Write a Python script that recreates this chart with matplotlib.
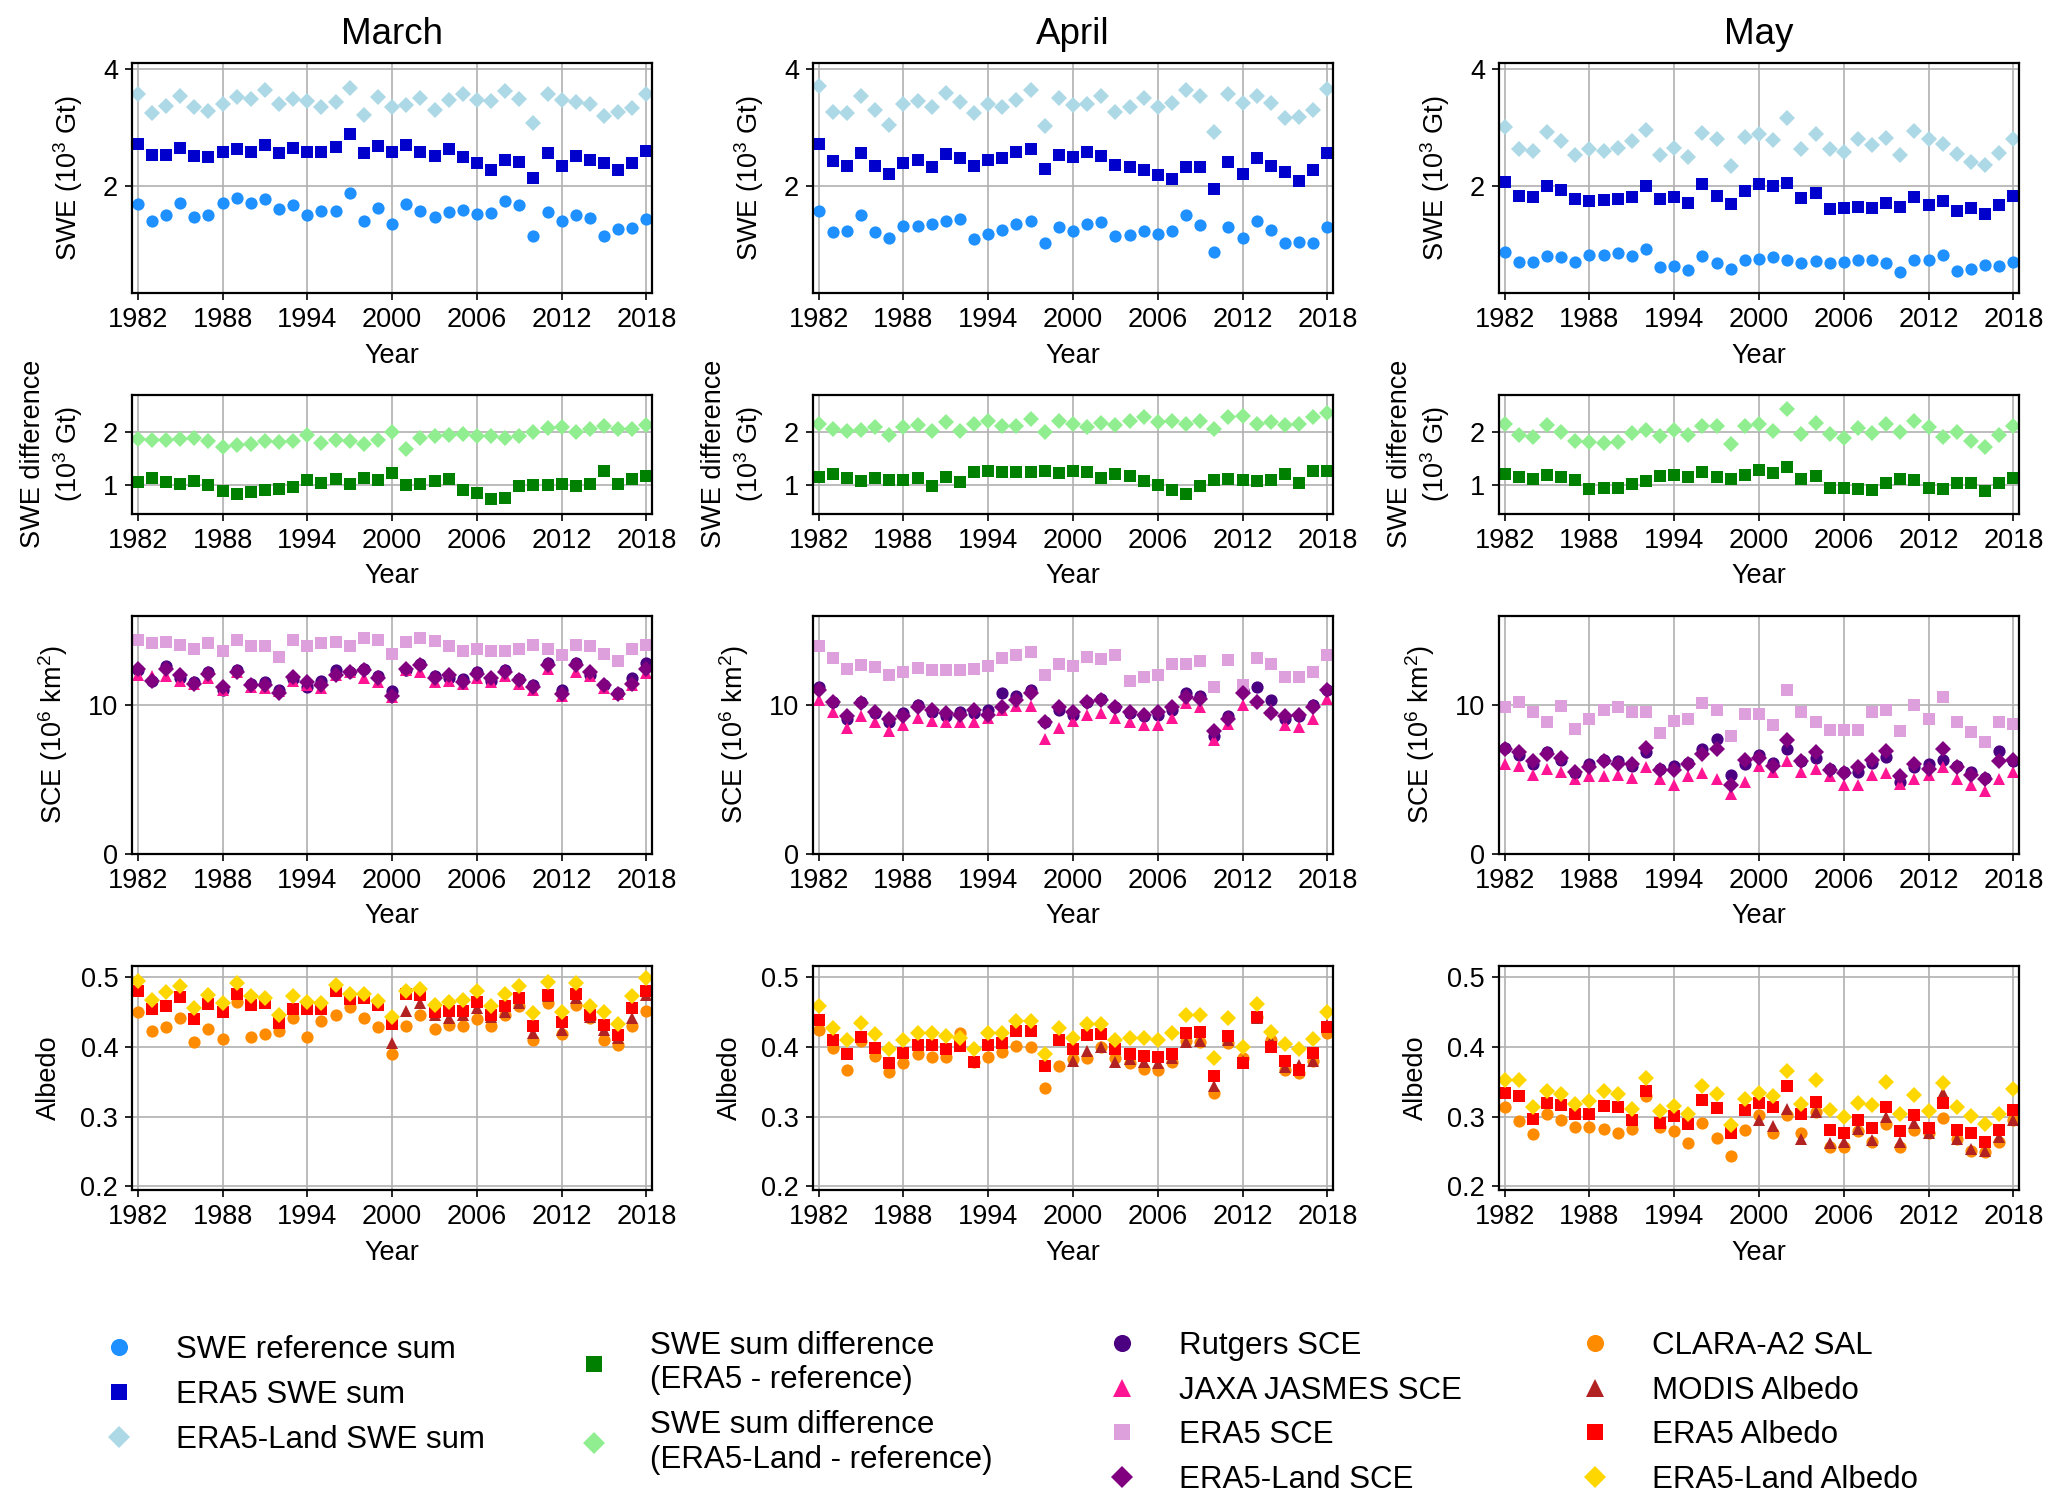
import numpy as np
import matplotlib.pyplot as plt
from matplotlib.lines import Line2D

plt.rcParams['font.family'] = ['Liberation Sans', 'DejaVu Sans']
plt.rcParams['mathtext.fontset'] = 'custom'
plt.rcParams['mathtext.rm'] = 'Liberation Sans'
plt.rcParams['mathtext.it'] = 'Liberation Sans:italic'

years = np.arange(1982, 2019)
modis_years = np.arange(2000, 2019)
months = ['March', 'April', 'May']
year_ticks = [1982, 1988, 1994, 2000, 2006, 2012, 2018]

# SWE sums (10^3 Gt)
mar_swe_ref = [1.69, 1.41, 1.51, 1.71, 1.47, 1.51, 1.71, 1.79, 1.71, 1.78, 1.61, 1.68, 1.50, 1.58, 1.58, 1.89, 1.41, 1.63, 1.36,
               1.70, 1.58, 1.47, 1.55, 1.60, 1.53, 1.54, 1.74, 1.67, 1.15, 1.55, 1.40, 1.50, 1.46, 1.15, 1.26, 1.29, 1.44]
mar_swe_era5 = [2.73, 2.54, 2.54, 2.66, 2.52, 2.50, 2.59, 2.63, 2.59, 2.70, 2.56, 2.66, 2.59, 2.59, 2.67, 2.89, 2.56, 2.69, 2.59,
                2.70, 2.58, 2.51, 2.64, 2.50, 2.39, 2.28, 2.44, 2.41, 2.14, 2.56, 2.35, 2.51, 2.45, 2.40, 2.27, 2.40, 2.61]
mar_swe_land = [3.58, 3.25, 3.37, 3.55, 3.36, 3.29, 3.40, 3.53, 3.49, 3.64, 3.41, 3.50, 3.46, 3.35, 3.44, 3.68, 3.22, 3.53, 3.36,
                3.39, 3.51, 3.31, 3.47, 3.57, 3.48, 3.46, 3.63, 3.50, 3.08, 3.58, 3.47, 3.44, 3.40, 3.20, 3.27, 3.34, 3.58]
apr_swe_ref = [1.57, 1.21, 1.23, 1.50, 1.22, 1.12, 1.32, 1.32, 1.35, 1.41, 1.44, 1.10, 1.19, 1.25, 1.36, 1.40, 1.03, 1.31, 1.24,
               1.35, 1.39, 1.14, 1.16, 1.23, 1.18, 1.23, 1.50, 1.34, 0.87, 1.30, 1.12, 1.41, 1.25, 1.03, 1.05, 1.03, 1.31]
apr_swe_era5 = [2.72, 2.43, 2.35, 2.56, 2.35, 2.20, 2.39, 2.45, 2.32, 2.55, 2.49, 2.35, 2.45, 2.48, 2.59, 2.64, 2.30, 2.53, 2.50,
                2.58, 2.51, 2.36, 2.33, 2.28, 2.19, 2.13, 2.33, 2.32, 1.96, 2.41, 2.21, 2.48, 2.34, 2.25, 2.09, 2.28, 2.57]
apr_swe_land = [3.72, 3.27, 3.25, 3.54, 3.30, 3.05, 3.40, 3.45, 3.36, 3.59, 3.44, 3.25, 3.40, 3.35, 3.47, 3.64, 3.03, 3.51, 3.39,
                3.41, 3.55, 3.27, 3.36, 3.51, 3.36, 3.43, 3.64, 3.55, 2.93, 3.57, 3.42, 3.55, 3.43, 3.16, 3.19, 3.31, 3.66]
may_swe_ref = [0.88, 0.70, 0.70, 0.81, 0.79, 0.70, 0.83, 0.83, 0.85, 0.80, 0.93, 0.62, 0.63, 0.56, 0.80, 0.69, 0.59, 0.73, 0.75,
               0.78, 0.73, 0.68, 0.72, 0.68, 0.70, 0.73, 0.74, 0.68, 0.53, 0.73, 0.73, 0.83, 0.55, 0.59, 0.65, 0.64, 0.71]
may_swe_era5 = [2.08, 1.84, 1.81, 2.00, 1.93, 1.78, 1.75, 1.76, 1.78, 1.82, 2.00, 1.78, 1.81, 1.71, 2.03, 1.84, 1.69, 1.91, 2.03,
                2.00, 2.06, 1.79, 1.89, 1.61, 1.63, 1.65, 1.63, 1.71, 1.64, 1.82, 1.67, 1.74, 1.58, 1.63, 1.53, 1.67, 1.84]
may_swe_land = [3.02, 2.63, 2.60, 2.93, 2.78, 2.53, 2.64, 2.61, 2.66, 2.78, 2.96, 2.54, 2.66, 2.50, 2.91, 2.80, 2.35, 2.84, 2.90,
                2.79, 3.16, 2.63, 2.89, 2.63, 2.59, 2.80, 2.71, 2.82, 2.53, 2.94, 2.81, 2.73, 2.55, 2.42, 2.36, 2.57, 2.81]

# SWE sum differences (10^3 Gt)
mar_diff_era5 = [1.05, 1.13, 1.05, 1.02, 1.07, 1.00, 0.88, 0.83, 0.86, 0.89, 0.92, 0.96, 1.08, 1.03, 1.10, 1.02, 1.13, 1.08, 1.22,
                 0.99, 1.01, 1.07, 1.10, 0.90, 0.84, 0.72, 0.75, 0.97, 0.99, 0.99, 1.01, 0.97, 1.01, 1.26, 1.01, 1.10, 1.16]
mar_diff_land = [1.86, 1.85, 1.85, 1.86, 1.88, 1.82, 1.71, 1.75, 1.77, 1.82, 1.80, 1.82, 1.94, 1.78, 1.85, 1.82, 1.77, 1.85, 1.99,
                 1.67, 1.88, 1.92, 1.94, 1.96, 1.92, 1.91, 1.88, 1.91, 1.99, 2.07, 2.09, 1.99, 2.05, 2.11, 2.05, 2.05, 2.13]
apr_diff_era5 = [1.15, 1.20, 1.12, 1.06, 1.12, 1.08, 1.08, 1.12, 0.98, 1.14, 1.05, 1.24, 1.25, 1.23, 1.23, 1.24, 1.26, 1.22, 1.25,
                 1.23, 1.13, 1.21, 1.17, 1.06, 1.00, 0.90, 0.83, 0.98, 1.09, 1.10, 1.09, 1.07, 1.09, 1.21, 1.04, 1.25, 1.26]
apr_diff_land = [2.15, 2.06, 2.02, 2.04, 2.08, 1.93, 2.08, 2.13, 2.01, 2.18, 2.02, 2.15, 2.21, 2.10, 2.11, 2.24, 2.00, 2.20, 2.15,
                 2.08, 2.16, 2.13, 2.20, 2.28, 2.18, 2.20, 2.14, 2.21, 2.06, 2.27, 2.30, 2.14, 2.18, 2.13, 2.14, 2.28, 2.35]
may_diff_era5 = [1.20, 1.14, 1.11, 1.19, 1.14, 1.08, 0.92, 0.93, 0.93, 1.02, 1.07, 1.16, 1.18, 1.15, 1.23, 1.15, 1.10, 1.18, 1.28,
                 1.22, 1.33, 1.11, 1.17, 0.93, 0.93, 0.92, 0.89, 1.03, 1.11, 1.09, 0.94, 0.91, 1.03, 1.04, 0.88, 1.03, 1.13]
may_diff_land = [2.14, 1.93, 1.90, 2.12, 1.99, 1.83, 1.81, 1.78, 1.81, 1.98, 2.03, 1.92, 2.03, 1.94, 2.11, 2.11, 1.76, 2.11, 2.15,
                 2.01, 2.43, 1.95, 2.17, 1.95, 1.89, 2.07, 1.97, 2.14, 2.00, 2.21, 2.08, 1.90, 2.00, 1.83, 1.71, 1.93, 2.10]

# Snow cover extent (10^6 km2)
mar_sce_rutgers = [12.3, 11.6, 12.6, 11.8, 11.5, 12.2, 11.0, 12.3, 11.4, 11.5, 11.0, 11.7, 11.2, 11.6, 12.3, 12.2, 12.4, 11.9, 10.9,
                   12.3, 12.7, 11.9, 11.8, 11.7, 12.2, 11.6, 12.3, 11.7, 11.3, 12.8, 11.0, 12.8, 12.0, 11.3, 10.8, 11.8, 12.8]
mar_sce_jaxa = [12.0, 11.9, 11.9, 11.6, 11.4, 11.8, 11.0, 12.2, 11.2, 11.1, 10.9, 11.6, 11.3, 11.1, 12.0, 12.2, 11.8, 11.5, 10.5,
                12.3, 12.2, 11.5, 11.6, 11.4, 11.8, 11.5, 11.9, 11.4, 11.0, 12.4, 10.6, 12.2, 11.9, 11.1, 10.7, 11.3, 12.1]
mar_sce_era5 = [14.3, 14.1, 14.2, 14.0, 13.75, 14.1, 13.6, 14.3, 13.95, 13.9, 13.2, 14.3, 13.95, 14.1, 14.2, 13.95, 14.45, 14.3, 13.4,
                14.2, 14.45, 14.25, 13.9, 13.6, 13.75, 13.6, 13.6, 13.75, 14.0, 13.7, 13.3, 14.0, 13.9, 13.4, 12.9, 13.75, 14.0]
mar_sce_land = [12.4, 11.55, 12.4, 11.95, 11.4, 12.05, 11.2, 12.2, 11.3, 11.3, 10.8, 11.85, 11.5, 11.3, 11.95, 12.15, 12.3, 11.75, 10.6,
                12.4, 12.65, 11.75, 11.95, 11.5, 12.05, 11.75, 12.15, 11.65, 11.2, 12.65, 10.7, 12.65, 12.15, 11.3, 10.7, 11.4, 12.4]
apr_sce_rutgers = [11.2, 10.2, 9.0, 10.2, 9.4, 8.8, 9.4, 10.0, 9.5, 9.2, 9.5, 9.4, 9.6, 10.8, 10.6, 11.0, 8.8, 9.6, 9.3,
                   10.2, 10.4, 9.8, 9.4, 9.2, 9.3, 9.6, 10.8, 10.6, 7.9, 9.2, 11.0, 11.2, 10.3, 9.0, 9.2, 10.0, 11.0]
apr_sce_jaxa = [10.3, 9.5, 8.4, 9.2, 8.8, 8.2, 8.6, 9.1, 8.9, 8.8, 8.8, 8.8, 9.1, 9.6, 9.9, 9.9, 7.7, 8.4, 8.9,
                9.3, 9.4, 9.1, 8.8, 8.6, 8.6, 9.1, 10.1, 9.8, 7.6, 8.7, 10.0, 10.3, 9.6, 8.6, 8.5, 9.0, 10.4]
apr_sce_era5 = [13.9, 13.15, 12.4, 12.65, 12.5, 11.95, 12.15, 12.45, 12.3, 12.3, 12.3, 12.4, 12.55, 13.1, 13.3, 13.55, 11.95, 12.7, 12.55,
                13.2, 13.05, 13.3, 11.6, 11.85, 11.95, 12.7, 12.7, 12.9, 11.2, 13.0, 11.3, 13.1, 12.7, 11.85, 11.85, 12.2, 13.3]
apr_sce_land = [11.0, 10.2, 9.2, 10.1, 9.5, 9.0, 9.2, 9.8, 9.6, 9.4, 9.3, 9.6, 9.3, 9.8, 10.3, 10.8, 8.8, 9.8, 9.5,
                10.2, 10.3, 9.8, 9.5, 9.3, 9.5, 9.8, 10.5, 10.4, 8.2, 9.0, 10.8, 10.2, 9.4, 9.2, 9.3, 9.8, 11.0]
may_sce_rutgers = [7.1, 6.6, 6.0, 6.8, 6.3, 5.4, 6.0, 6.3, 6.2, 5.9, 6.8, 5.7, 5.9, 6.1, 7.0, 7.7, 5.3, 6.0, 6.6,
                   6.1, 7.0, 6.2, 6.4, 5.7, 5.5, 5.5, 6.1, 6.5, 4.8, 5.8, 6.0, 6.3, 5.9, 5.5, 5.1, 6.9, 6.2]
may_sce_jaxa = [6.0, 5.9, 5.3, 5.7, 5.5, 5.0, 5.2, 5.2, 5.3, 5.1, 5.8, 5.0, 4.6, 5.2, 5.4, 5.0, 4.0, 4.8, 5.9,
                5.5, 6.2, 5.5, 5.7, 5.2, 4.6, 4.6, 5.3, 5.4, 4.7, 5.0, 5.3, 5.8, 5.0, 4.6, 4.2, 5.0, 5.5]
may_sce_era5 = [9.8, 10.2, 9.5, 8.85, 9.9, 8.35, 9.0, 9.65, 9.8, 9.5, 9.5, 8.1, 8.9, 9.0, 10.1, 9.65, 7.9, 9.35, 9.35,
                8.65, 10.95, 9.5, 8.85, 8.3, 8.3, 8.3, 9.5, 9.65, 8.2, 9.95, 9.0, 10.5, 8.85, 8.15, 7.5, 8.8, 8.7]
may_sce_land = [7.0, 6.8, 6.2, 6.7, 6.4, 5.5, 5.8, 6.2, 6.0, 6.0, 7.1, 5.6, 5.6, 6.0, 6.7, 7.0, 4.6, 6.3, 6.4,
                5.9, 7.6, 6.2, 6.8, 5.6, 5.4, 5.8, 6.3, 6.9, 5.2, 6.0, 5.7, 7.0, 5.8, 5.3, 5.0, 6.2, 6.3]

# Albedo
mar_alb_clara = [0.450, 0.423, 0.428, 0.441, 0.406, 0.425, 0.411, 0.464, 0.414, 0.418, 0.422, 0.441, 0.414, 0.436, 0.445, 0.457,
                 0.441, 0.428, 0.390, 0.430, 0.445, 0.425, 0.431, 0.430, 0.440, 0.430, 0.445, 0.458, 0.409, 0.462, 0.418, 0.459,
                 0.441, 0.409, 0.403, 0.429, 0.451]
mar_alb_modis = [0.405, 0.451, 0.462, 0.446, 0.441, 0.445, 0.455, 0.443, 0.450, 0.462, 0.420, 0.472, 0.424, 0.469, 0.443, 0.424,
                 0.412, 0.441, 0.474]
mar_alb_era5 = [0.480, 0.454, 0.458, 0.471, 0.440, 0.461, 0.449, 0.475, 0.459, 0.462, 0.434, 0.454, 0.454, 0.454, 0.480, 0.468,
                0.470, 0.459, 0.432, 0.475, 0.474, 0.449, 0.451, 0.451, 0.464, 0.445, 0.458, 0.470, 0.429, 0.474, 0.435, 0.475,
                0.445, 0.431, 0.416, 0.455, 0.480]
mar_alb_land = [0.494, 0.467, 0.478, 0.487, 0.455, 0.474, 0.462, 0.491, 0.472, 0.470, 0.445, 0.473, 0.464, 0.462, 0.488, 0.476,
                0.476, 0.466, 0.442, 0.480, 0.482, 0.459, 0.464, 0.467, 0.480, 0.458, 0.475, 0.487, 0.448, 0.493, 0.450, 0.491,
                0.458, 0.450, 0.432, 0.472, 0.498]
apr_alb_clara = [0.424, 0.398, 0.366, 0.408, 0.387, 0.364, 0.377, 0.390, 0.385, 0.385, 0.420, 0.378, 0.385, 0.393, 0.401, 0.400,
                 0.341, 0.373, 0.382, 0.384, 0.399, 0.384, 0.377, 0.368, 0.366, 0.378, 0.408, 0.406, 0.334, 0.405, 0.384, 0.443,
                 0.409, 0.367, 0.363, 0.379, 0.419]
apr_alb_modis = [0.380, 0.394, 0.400, 0.378, 0.382, 0.378, 0.377, 0.384, 0.406, 0.408, 0.344, 0.409, 0.379, 0.441, 0.408, 0.371,
                 0.374, 0.380, 0.431]
apr_alb_era5 = [0.438, 0.409, 0.389, 0.414, 0.398, 0.376, 0.391, 0.402, 0.402, 0.397, 0.401, 0.378, 0.402, 0.405, 0.422, 0.423,
                0.373, 0.409, 0.397, 0.416, 0.418, 0.396, 0.390, 0.387, 0.385, 0.390, 0.419, 0.421, 0.358, 0.415, 0.376, 0.442,
                0.400, 0.379, 0.366, 0.391, 0.428]
apr_alb_land = [0.458, 0.427, 0.409, 0.434, 0.418, 0.397, 0.410, 0.419, 0.420, 0.415, 0.413, 0.396, 0.420, 0.420, 0.436, 0.437,
                0.390, 0.427, 0.413, 0.433, 0.433, 0.409, 0.413, 0.413, 0.409, 0.419, 0.445, 0.445, 0.384, 0.441, 0.400, 0.461,
                0.421, 0.404, 0.397, 0.411, 0.450]
may_alb_clara = [0.313, 0.294, 0.275, 0.303, 0.295, 0.285, 0.285, 0.282, 0.277, 0.282, 0.330, 0.285, 0.279, 0.262, 0.291, 0.269,
                 0.243, 0.281, 0.302, 0.277, 0.302, 0.276, 0.307, 0.257, 0.257, 0.280, 0.263, 0.289, 0.257, 0.281, 0.277, 0.298,
                 0.268, 0.250, 0.249, 0.263, 0.295]
may_alb_modis = [0.295, 0.286, 0.311, 0.268, 0.307, 0.262, 0.263, 0.282, 0.266, 0.299, 0.263, 0.291, 0.277, 0.334, 0.268, 0.254,
                 0.251, 0.270, 0.295]
may_alb_era5 = [0.334, 0.329, 0.297, 0.320, 0.316, 0.304, 0.304, 0.315, 0.313, 0.295, 0.337, 0.291, 0.301, 0.289, 0.323, 0.312,
                0.277, 0.309, 0.320, 0.314, 0.344, 0.304, 0.321, 0.281, 0.276, 0.295, 0.283, 0.313, 0.280, 0.302, 0.284, 0.319,
                0.281, 0.276, 0.263, 0.281, 0.309]
may_alb_land = [0.352, 0.352, 0.313, 0.336, 0.332, 0.318, 0.322, 0.337, 0.332, 0.311, 0.355, 0.308, 0.315, 0.303, 0.343, 0.332,
                0.288, 0.325, 0.334, 0.329, 0.365, 0.318, 0.352, 0.310, 0.299, 0.319, 0.316, 0.350, 0.304, 0.331, 0.308, 0.348,
                0.314, 0.301, 0.289, 0.303, 0.339]

swe_ref = [mar_swe_ref, apr_swe_ref, may_swe_ref]
swe_era5 = [mar_swe_era5, apr_swe_era5, may_swe_era5]
swe_land = [mar_swe_land, apr_swe_land, may_swe_land]
diff_era5 = [mar_diff_era5, apr_diff_era5, may_diff_era5]
diff_land = [mar_diff_land, apr_diff_land, may_diff_land]
sce_rutgers = [mar_sce_rutgers, apr_sce_rutgers, may_sce_rutgers]
sce_jaxa = [mar_sce_jaxa, apr_sce_jaxa, may_sce_jaxa]
sce_era5 = [mar_sce_era5, apr_sce_era5, may_sce_era5]
sce_land = [mar_sce_land, apr_sce_land, may_sce_land]
alb_clara = [mar_alb_clara, apr_alb_clara, may_alb_clara]
alb_modis = [mar_alb_modis, apr_alb_modis, may_alb_modis]
alb_era5 = [mar_alb_era5, apr_alb_era5, may_alb_era5]
alb_land = [mar_alb_land, apr_alb_land, may_alb_land]

# marker styles
st_swe_ref = dict(marker='o', color='dodgerblue', markersize=8.8)
st_swe_era5 = dict(marker='s', color='mediumblue', markersize=8)
st_swe_land = dict(marker='D', color='lightblue', markersize=8.2)
st_diff_era5 = dict(marker='s', color='green', markersize=8)
st_diff_land = dict(marker='D', color='lightgreen', markersize=8.2)
st_rutgers = dict(marker='o', color='indigo', markersize=8.8)
st_jaxa = dict(marker='^', color='deeppink', markersize=9)
st_sce_era5 = dict(marker='s', color='plum', markersize=8)
st_sce_land = dict(marker='D', color='purple', markersize=8.2)
st_clara = dict(marker='o', color='darkorange', markersize=8.8)
st_modis = dict(marker='^', color='firebrick', markersize=9)
st_alb_era5 = dict(marker='s', color='red', markersize=8)
st_alb_land = dict(marker='D', color='gold', markersize=8.2)

FS = 19.5
col_left = [0.0639, 0.3933, 0.7252]
col_w = 0.2516
rows = [(0.806, 0.152), (0.660, 0.0788), (0.435, 0.157), (0.2125, 0.148)]


def style_axes(ax, ylabel, ylim, yticks):
    ax.set_xlim(1981.6, 2018.4)
    ax.set_xticks(year_ticks)
    ax.set_ylim(ylim)
    ax.set_yticks(yticks)
    ax.grid(True, color='#b0b0b0', linewidth=1.2)
    ax.set_axisbelow(True)
    ax.set_xlabel('Year', fontsize=FS, labelpad=7)
    ax.set_ylabel(ylabel, fontsize=FS, labelpad=13)
    ax.tick_params(labelsize=FS, length=5, width=1.2, pad=5)
    for sp in ax.spines.values():
        sp.set_linewidth(1.6)


def dots(ax, x, y, st):
    ax.plot(x, y, linestyle='none', markeredgewidth=0, **st)


fig = plt.figure(figsize=(20.67, 15.11), dpi=100)

for c, month in enumerate(months):
    # SWE sums
    ax = fig.add_axes([col_left[c], rows[0][0], col_w, rows[0][1]])
    dots(ax, years, swe_ref[c], st_swe_ref)
    dots(ax, years, swe_era5[c], st_swe_era5)
    dots(ax, years, swe_land[c], st_swe_land)
    style_axes(ax, 'SWE (10$^3$ Gt)', (0.17, 4.1), [2, 4])
    ax.set_title(month, fontsize=26.5, pad=14)

    # SWE differences
    ax = fig.add_axes([col_left[c], rows[1][0], col_w, rows[1][1]])
    dots(ax, years, diff_era5[c], st_diff_era5)
    dots(ax, years, diff_land[c], st_diff_land)
    style_axes(ax, 'SWE difference\n(10$^3$ Gt)', (0.45, 2.7), [1, 2])

    # SCE
    ax = fig.add_axes([col_left[c], rows[2][0], col_w, rows[2][1]])
    dots(ax, years, sce_rutgers[c], st_rutgers)
    dots(ax, years, sce_jaxa[c], st_jaxa)
    dots(ax, years, sce_era5[c], st_sce_era5)
    dots(ax, years, sce_land[c], st_sce_land)
    style_axes(ax, 'SCE (10$^6$ km$^2$)', (0, 15.9), [0, 10])

    # Albedo
    ax = fig.add_axes([col_left[c], rows[3][0], col_w, rows[3][1]])
    dots(ax, years, alb_clara[c], st_clara)
    dots(ax, modis_years, alb_modis[c], st_modis)
    dots(ax, years, alb_era5[c], st_alb_era5)
    dots(ax, years, alb_land[c], st_alb_land)
    style_axes(ax, 'Albedo', (0.195, 0.515), [0.2, 0.3, 0.4, 0.5])


def handle(st):
    return Line2D([], [], linestyle='none', markeredgewidth=0, **st)


leg_kw = dict(loc='upper left', frameon=False, fontsize=22.5, handletextpad=0.8,
              borderaxespad=0, labelspacing=0.47, markerscale=1.4)

fig.legend([handle(st_swe_ref), handle(st_swe_era5), handle(st_swe_land)],
           ['SWE reference sum', 'ERA5 SWE sum', 'ERA5-Land SWE sum'],
           bbox_to_anchor=(0.0366, 0.1245), **leg_kw)
fig.legend([handle(st_diff_era5), handle(st_diff_land)],
           ['SWE sum difference\n(ERA5 - reference)', 'SWE sum difference\n(ERA5-Land - reference)'],
           bbox_to_anchor=(0.266, 0.1275), **leg_kw)
fig.legend([handle(st_rutgers), handle(st_jaxa), handle(st_sce_era5), handle(st_sce_land)],
           ['Rutgers SCE', 'JAXA JASMES SCE', 'ERA5 SCE', 'ERA5-Land SCE'],
           bbox_to_anchor=(0.5218, 0.1275), **leg_kw)
fig.legend([handle(st_clara), handle(st_modis), handle(st_alb_era5), handle(st_alb_land)],
           ['CLARA-A2 SAL', 'MODIS Albedo', 'ERA5 Albedo', 'ERA5-Land Albedo'],
           bbox_to_anchor=(0.7507, 0.1275), **leg_kw)

fig.savefig('out.png', dpi=100)
